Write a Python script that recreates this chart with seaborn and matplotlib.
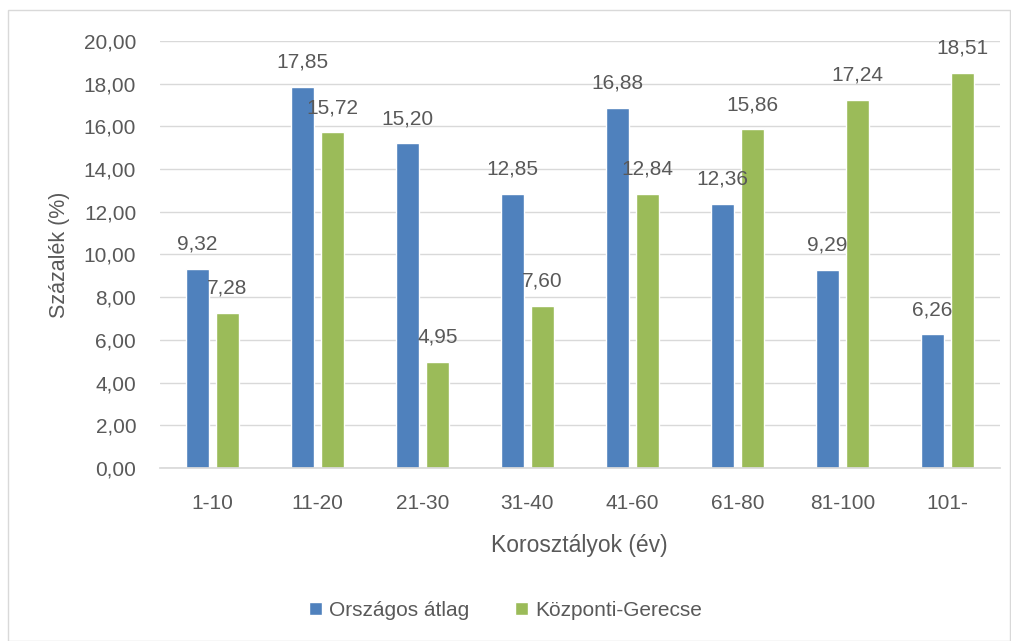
import numpy as np
import pandas as pd
import seaborn as sns
import matplotlib.pyplot as plt
from matplotlib.patches import Rectangle

korosztalyok = ["1-10", "11-20", "21-30", "31-40", "41-60", "61-80", "81-100", "101-"]
orszagos = [9.32, 17.85, 15.20, 12.85, 16.88, 12.36, 9.29, 6.26]
kozponti = [7.28, 15.72, 4.95, 7.60, 12.84, 15.86, 17.24, 18.51]
sorozatok = ["Országos átlag", "Központi-Gerecse"]
szinek = ["#4F81BD", "#9BBB59"]

df = pd.DataFrame({
    "korosztaly": korosztalyok * 2,
    "szazalek": orszagos + kozponti,
    "sorozat": [sorozatok[0]] * len(korosztalyok) + [sorozatok[1]] * len(korosztalyok),
})

sns.set_theme(style="white")
plt.rcParams['font.family'] = ['Liberation Sans', 'DejaVu Sans']
szurke = "#595959"

fig = plt.figure(figsize=(10.11, 6.41), dpi=100)
ax = fig.add_axes([0.158, 0.270, 0.831, 0.666])

sns.barplot(data=df, x="korosztaly", y="szazalek", hue="sorozat", palette=szinek,
            width=0.574, gap=0.233, ax=ax, legend=True, saturation=1)

# adatcímkék vesszővel
for cont in ax.containers:
    ax.bar_label(cont, labels=[f"{v:.2f}".replace(".", ",") for v in cont.datavalues],
                 padding=11, fontsize=15, color=szurke)

ax.set_ylim(0, 20)
ax.set_yticks(np.arange(0, 21, 2))
ax.set_yticklabels([f"{v:.2f}".replace(".", ",") for v in np.arange(0, 21, 2)])
ax.set_xlim(-0.5, len(korosztalyok) - 0.5)
ax.yaxis.grid(True, color="#D9D9D9", linewidth=1)
ax.set_axisbelow(True)
for s in ["top", "right", "left"]:
    ax.spines[s].set_visible(False)
ax.spines["bottom"].set_color("#D9D9D9")
ax.tick_params(axis="y", length=0, pad=17, labelsize=15, labelcolor=szurke)
ax.tick_params(axis="x", length=0, pad=19, labelsize=15, labelcolor=szurke)
ax.set_xlabel("Korosztályok (év)", fontsize=16.5, color=szurke, labelpad=15)
ax.set_ylabel("Százalék (%)", fontsize=15.5, color=szurke, labelpad=10)

handles, labels = ax.get_legend_handles_labels()
ax.get_legend().remove()
fig.legend(handles, labels, loc="center", bbox_to_anchor=(0.5, 0.048), ncol=2,
           frameon=False, fontsize=15, labelcolor=szurke, handlelength=0.6,
           handleheight=0.6, handletextpad=0.35, columnspacing=2.2)

fig.patches.append(Rectangle((8 / 1011, 0.0), 1 - 9 / 1011, 1 - 10 / 641,
                             transform=fig.transFigure, fill=False,
                             edgecolor="#D9D9D9", linewidth=1))

fig.savefig("out.png", dpi=100)
